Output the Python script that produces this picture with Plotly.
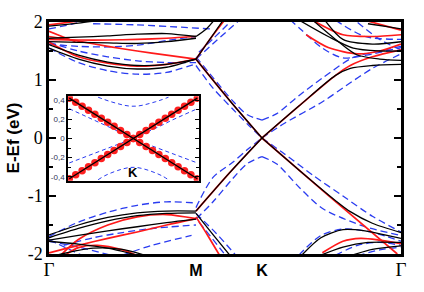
import plotly.graph_objects as go

# ---------------- path / tick data ----------------
K_TICKS = [0.0, 1.0, 1.449, 2.395]
K_LABELS = ["Γ", "M", "K", "Γ"]
Y_TICKS = [-2, -1, 0, 1, 2]
INSET_TICKS = [-0.4, -0.2, 0.0, 0.2, 0.4]
INSET_LABELS = ["-0,4", "-0,2", "0", "0,2", "0,4"]

KGM = [0.0, 0.2, 0.4, 0.6, 0.8, 1.0]
KMK = [1.0, 1.225, 1.449]
KKG = [1.449, 1.7, 1.95, 2.05, 2.2, 2.395]
KMK5 = [1.0, 1.116, 1.25, 1.35, 1.449]

# ---------------- black (solid) bands ----------------
bk_gm_u1 = [1.55, 1.36, 1.24, 1.19, 1.22, 1.36]
bk_gm_u2 = [1.61, 1.43, 1.31, 1.25, 1.27, 1.36]
bk_gm_u3 = [1.72, 1.74, 1.76, 1.79, 1.80, 1.75]
bk_gm_u4 = [1.66, 1.65, 1.64, 1.63, 1.66, 1.72]
bk_top_k, bk_top_e = [0.0, 0.2, 0.4], [1.93, 1.98, 2.05]
bk_m_up_k, bk_m_up_e = [1.0, 1.1, 1.19], [1.36, 1.72, 2.05]
bk_m_up2_k, bk_m_up2_e = [1.0, 1.07, 1.13], [1.75, 1.88, 2.05]
bk_dirac1_mk = [1.36, 0.66, 0.0]
bk_dirac2_mk = [-1.26, -0.61, 0.0]
bk_dirac1_kg = [0.0, -0.55, -1.08, -1.27, -1.47, -1.63]
bk_dirac2_kg = [0.0, 0.55, 1.08, 1.2, 1.25, 1.27]
bk_kg_u1_k, bk_kg_u1_e = [1.8, 1.95, 2.09, 2.25, 2.395], [2.02, 1.7, 1.44, 1.36, 1.34]
bk_kg_u2_k, bk_kg_u2_e = [1.71, 1.9, 2.07, 2.25, 2.395], [2.02, 1.75, 1.55, 1.5, 1.5]
bk_kg_u3_k, bk_kg_u3_e = [1.88, 2.0, 2.2, 2.395], [2.02, 1.7, 1.62, 1.66]
bk_kg_u4_k, bk_kg_u4_e = [2.17, 2.3, 2.395], [1.97, 1.92, 1.88]
bk_gm_l1 = [-1.67, -1.5, -1.37, -1.29, -1.26, -1.26]
bk_gm_l2 = [-1.72, -1.56, -1.43, -1.34, -1.30, -1.29]
bk_gm_l3 = [-1.76, -1.68, -1.60, -1.53, -1.46, -1.40]
bk_gm_l4_k, bk_gm_l4_e = [0.0, 0.2, 0.4, 0.6], [-1.78, -1.83, -1.9, -2.02]
bk_gm_l5_k, bk_gm_l5_e = [0.05, 0.3, 0.5, 0.65], [-2.02, -1.9, -1.92, -2.02]
bk_m_dn_k, bk_m_dn_e = [1.0, 1.12, 1.23], [-1.3, -1.68, -2.02]
bk_kg_l2_k, bk_kg_l2_e = [1.72, 1.85, 2.0, 2.15, 2.3, 2.395], [-2.02, -1.72, -1.58, -1.6, -1.68, -1.73]
bk_kg_l3_k, bk_kg_l3_e = [1.85, 2.0, 2.17, 2.395], [-2.02, -1.88, -1.8, -1.8]
bk_kg_l4_k, bk_kg_l4_e = [2.05, 2.2, 2.395], [-2.03, -1.92, -1.86]

# ---------------- red bands ----------------
rd_gm_u1 = [1.65, 1.40, 1.29, 1.24, 1.27, 1.36]
rd_gm_u2 = [1.75, 1.67, 1.58, 1.50, 1.43, 1.36]
rd_gm_u3 = [1.70, 1.69, 1.69, 1.70, 1.72, 1.75]
rd_top_k, rd_top_e = [0.0, 0.15, 0.3], [1.95, 2.0, 2.05]
rd_loop_k, rd_loop_e = [0.0, 0.08, 0.18], [1.84, 1.76, 1.66]
rd_m_up_k, rd_m_up_e = [1.0, 1.1, 1.2], [1.36, 1.72, 2.05]
rd_dirac1_kg_k, rd_dirac1_kg_e = [1.449, 1.9, 2.37], [0.0, -0.99, -2.0]
rd_dirac2_kg = [0.0, 0.55, 1.08, 1.25, 1.4, 1.52]
rd_kg_u1_k, rd_kg_u1_e = [1.75, 1.9, 2.1, 2.25, 2.395], [1.78, 1.56, 1.45, 1.5, 1.62]
rd_kg_u2_k, rd_kg_u2_e = [1.8, 2.0, 2.2, 2.395], [2.02, 1.78, 1.75, 1.78]
rd_kg_u3_k, rd_kg_u3_e = [2.15, 2.395], [2.03, 1.86]
rd_gm_l1_k, rd_gm_l1_e = [0.08, 0.2, 0.4, 0.6, 0.8, 1.0], [-2.02, -1.75, -1.5, -1.36, -1.32, -1.39]
rd_gm_l2 = [-1.98, -1.85, -1.73, -1.62, -1.5, -1.39]
rd_gm_l3_k, rd_gm_l3_e = [0.12, 0.2, 0.33, 0.5, 0.62], [-2.0, -1.89, -1.85, -1.93, -2.05]
rd_m_dn_k, rd_m_dn_e = [1.0, 1.08, 1.16], [-1.36, -1.68, -2.02]
rd_kg_l2_k, rd_kg_l2_e = [1.86, 2.0, 2.12, 2.25, 2.395], [-1.98, -1.78, -1.73, -1.76, -1.82]

# ---------------- blue (dashed) bands ----------------
bl_gm_u1 = [1.55, 1.30, 1.16, 1.10, 1.13, 1.28]
bl_gm_u2 = [1.65, 1.50, 1.40, 1.33, 1.30, 1.30]
bl_gm_u3 = [1.62, 1.58, 1.57, 1.60, 1.68, 1.75]
bl_top_k, bl_top_e = [0.3, 0.6, 0.9, 1.1], [1.97, 1.95, 1.91, 1.88]
bl_top2_k, bl_top2_e = [0.0, 0.15, 0.3], [1.88, 1.96, 2.05]
bl_m_up1_k, bl_m_up1_e = [1.0, 1.14, 1.29], [1.36, 1.68, 2.02]
bl_m_up2_k, bl_m_up2_e = [1.02, 1.12, 1.24], [1.48, 1.72, 2.02]
bl_hyp_up_l = [1.40, 1.04, 0.64, 0.40, 0.31]
bl_hyp_dn_l = [-1.40, -1.10, -0.70, -0.44, -0.32]
bl_cone1_l = [1.25, 0.86, 0.50, 0.24, 0.0]
bl_cone2_l = [-1.20, -0.68, -0.42, -0.20, 0.0]
bl_hyp_up_r_k, bl_hyp_up_r_e = [1.449, 1.55, 1.7, 1.864, 2.07, 2.25, 2.395], [0.31, 0.42, 0.73, 1.04, 1.39, 1.5, 1.58]
bl_hyp_dn_r_k, bl_hyp_dn_r_e = [1.449, 1.55, 1.71, 1.864, 2.14, 2.395], [-0.32, -0.45, -0.87, -1.22, -1.52, -1.68]
bl_cone1_r_k, bl_cone1_r_e = [1.449, 1.6, 1.8, 2.0, 2.2, 2.395], [0.0, -0.27, -0.65, -1.0, -1.35, -1.62]
bl_cone2_r_k, bl_cone2_r_e = [1.449, 1.6, 1.864, 2.02, 2.2, 2.395], [0.0, 0.25, 0.63, 0.9, 1.2, 1.45]
bl_kg_u1_k, bl_kg_u1_e = [1.64, 1.71, 1.86, 2.0, 2.2, 2.395], [2.04, 1.88, 1.55, 1.38, 1.45, 1.56]
bl_kg_u2_k, bl_kg_u2_e = [1.95, 2.15, 2.395], [2.03, 1.75, 1.7]
bl_kg_u3_k, bl_kg_u3_e = [2.1, 2.25, 2.395], [1.99, 1.7, 1.52]
bl_gm_l1 = [-1.70, -1.45, -1.28, -1.16, -1.10, -1.12]
bl_gm_l2_k, bl_gm_l2_e = [0.1, 0.3, 0.5, 0.7, 1.0], [-1.85, -1.72, -1.63, -1.56, -1.50]
bl_gm_l3_k, bl_gm_l3_e = [0.0, 0.2, 0.42], [-1.78, -1.88, -2.02]
bl_gm_l4_k, bl_gm_l4_e = [0.0, 0.12, 0.25], [-1.75, -1.9, -2.05]
bl_gm_l5_k, bl_gm_l5_e = [0.5, 0.7, 0.97], [-2.02, -1.85, -1.68]
bl_m_dn1_k, bl_m_dn1_e = [1.0, 1.14, 1.27], [-1.3, -1.65, -2.02]
bl_m_dn2_k, bl_m_dn2_e = [1.02, 1.1, 1.2], [-1.45, -1.7, -2.02]
bl_kg_l2_k, bl_kg_l2_e = [1.7, 1.85, 2.0, 2.15, 2.3, 2.395], [-2.02, -1.68, -1.57, -1.6, -1.7, -1.78]
bl_kg_l3_k, bl_kg_l3_e = [1.95, 2.1, 2.25, 2.395], [-2.02, -1.85, -1.8, -1.85]
bl_kg_l4_k, bl_kg_l4_e = [2.1, 2.25, 2.395], [-2.03, -1.93, -1.88]

# ---------------- inset data (around K) ----------------
ins_k = [-1.0, -0.9, -0.8, -0.7, -0.6, -0.5, -0.4, -0.3, -0.2, -0.1, 0.0,
         0.1, 0.2, 0.3, 0.4, 0.5, 0.6, 0.7, 0.8, 0.9, 1.0]
ins_black_a = [0.42, 0.378, 0.336, 0.294, 0.252, 0.21, 0.168, 0.126, 0.084, 0.042, 0.0,
               -0.042, -0.084, -0.126, -0.168, -0.21, -0.252, -0.294, -0.336, -0.378, -0.42]
ins_black_b = [-0.42, -0.378, -0.336, -0.294, -0.252, -0.21, -0.168, -0.126, -0.084, -0.042, 0.0,
               0.042, 0.084, 0.126, 0.168, 0.21, 0.252, 0.294, 0.336, 0.378, 0.42]
ins_blue_a = [0.31, 0.28, 0.25, 0.22, 0.19, 0.155, 0.125, 0.095, 0.06, 0.03, 0.0,
              -0.03, -0.055, -0.08, -0.105, -0.13, -0.155, -0.18, -0.205, -0.23, -0.255]
ins_blue_b = [-0.255, -0.23, -0.205, -0.18, -0.155, -0.13, -0.105, -0.08, -0.055, -0.03, 0.0,
              0.03, 0.06, 0.095, 0.125, 0.155, 0.19, 0.22, 0.25, 0.28, 0.31]
ins_hyp_k = [-0.55, -0.45, -0.35, -0.25, -0.15, -0.05, 0.05, 0.15, 0.25, 0.35, 0.45, 0.55]
ins_hyp_up = [0.43, 0.405, 0.383, 0.364, 0.347, 0.337, 0.337, 0.347, 0.364, 0.383, 0.405, 0.43]
ins_hyp_dn = [-0.43, -0.39, -0.36, -0.335, -0.315, -0.302, -0.302, -0.315, -0.335, -0.36, -0.39, -0.43]

BLUE = "#2a3cf0"
RED = "#ff1a1a"

fig = go.Figure()


def band(k, e, kind, xa="x", ya="y"):
    if kind == "b":
        line = dict(color="black", width=1.3)
    elif kind == "r":
        line = dict(color=RED, width=1.7)
    else:
        line = dict(color=BLUE, width=1.3, dash="7px,4px")
    line["shape"] = "spline"
    line["smoothing"] = 0.8
    fig.add_trace(go.Scatter(x=k, y=e, mode="lines", line=line, xaxis=xa, yaxis=ya,
                             hoverinfo="skip", showlegend=False))


blue_bands = [
    (KGM, bl_gm_u1), (KGM, bl_gm_u2), (KGM, bl_gm_u3), (bl_top_k, bl_top_e), (bl_top2_k, bl_top2_e),
    (bl_m_up1_k, bl_m_up1_e), (bl_m_up2_k, bl_m_up2_e),
    (KMK5, bl_hyp_up_l), (KMK5, bl_hyp_dn_l), (KMK5, bl_cone1_l), (KMK5, bl_cone2_l),
    (bl_hyp_up_r_k, bl_hyp_up_r_e), (bl_hyp_dn_r_k, bl_hyp_dn_r_e),
    (bl_cone1_r_k, bl_cone1_r_e), (bl_cone2_r_k, bl_cone2_r_e),
    (bl_kg_u1_k, bl_kg_u1_e), (bl_kg_u2_k, bl_kg_u2_e), (bl_kg_u3_k, bl_kg_u3_e),
    (KGM, bl_gm_l1), (bl_gm_l2_k, bl_gm_l2_e), (bl_gm_l3_k, bl_gm_l3_e), (bl_gm_l4_k, bl_gm_l4_e),
    (bl_gm_l5_k, bl_gm_l5_e), (bl_m_dn1_k, bl_m_dn1_e), (bl_m_dn2_k, bl_m_dn2_e),
    (bl_kg_l2_k, bl_kg_l2_e), (bl_kg_l3_k, bl_kg_l3_e), (bl_kg_l4_k, bl_kg_l4_e),
]
red_bands = [
    (KGM, rd_gm_u1), (KGM, rd_gm_u2), (KGM, rd_gm_u3), (rd_top_k, rd_top_e), (rd_loop_k, rd_loop_e),
    (rd_m_up_k, rd_m_up_e), (KMK, bk_dirac1_mk), (KMK, bk_dirac2_mk),
    (rd_dirac1_kg_k, rd_dirac1_kg_e), (KKG, rd_dirac2_kg),
    (rd_kg_u1_k, rd_kg_u1_e), (rd_kg_u2_k, rd_kg_u2_e), (rd_kg_u3_k, rd_kg_u3_e),
    (rd_gm_l1_k, rd_gm_l1_e), (KGM, rd_gm_l2), (rd_gm_l3_k, rd_gm_l3_e), (rd_m_dn_k, rd_m_dn_e),
    (rd_kg_l2_k, rd_kg_l2_e),
]
black_bands = [
    (KGM, bk_gm_u1), (KGM, bk_gm_u2), (KGM, bk_gm_u3), (KGM, bk_gm_u4), (bk_top_k, bk_top_e),
    (bk_m_up_k, bk_m_up_e), (bk_m_up2_k, bk_m_up2_e),
    (KMK, bk_dirac1_mk), (KMK, bk_dirac2_mk), (KKG, bk_dirac1_kg), (KKG, bk_dirac2_kg),
    (bk_kg_u1_k, bk_kg_u1_e), (bk_kg_u2_k, bk_kg_u2_e), (bk_kg_u3_k, bk_kg_u3_e), (bk_kg_u4_k, bk_kg_u4_e),
    (KGM, bk_gm_l1), (KGM, bk_gm_l2), (KGM, bk_gm_l3), (bk_gm_l4_k, bk_gm_l4_e), (bk_gm_l5_k, bk_gm_l5_e),
    (bk_m_dn_k, bk_m_dn_e), (bk_kg_l2_k, bk_kg_l2_e), (bk_kg_l3_k, bk_kg_l3_e), (bk_kg_l4_k, bk_kg_l4_e),
]
for k, e in blue_bands:
    band(k, e, "bl")
for k, e in red_bands:
    band(k, e, "r")
for k, e in black_bands:
    band(k, e, "b")

# ---------------- inset ----------------
fig.add_trace(go.Scatter(x=[-1.02, 1.02, 1.02, -1.02, -1.02], y=[-0.44, -0.44, 0.44, 0.44, -0.44],
                         fill="toself", fillcolor="white", mode="lines", line=dict(width=0),
                         xaxis="x2", yaxis="y2", hoverinfo="skip", showlegend=False))
for e in (ins_blue_a, ins_blue_b):
    fig.add_trace(go.Scatter(x=ins_k, y=e, mode="lines", xaxis="x2", yaxis="y2",
                             line=dict(color=BLUE, width=1, dash="4px,3px"), hoverinfo="skip", showlegend=False))
for e in (ins_hyp_up, ins_hyp_dn):
    fig.add_trace(go.Scatter(x=ins_hyp_k, y=e, mode="lines", xaxis="x2", yaxis="y2",
                             line=dict(color=BLUE, width=1, dash="4px,3px", shape="spline"),
                             hoverinfo="skip", showlegend=False))
for e in (ins_black_a, ins_black_b):
    fig.add_trace(go.Scatter(x=ins_k, y=e, mode="markers", xaxis="x2", yaxis="y2",
                             marker=dict(color="#ff2020", size=7.5, line=dict(width=0)),
                             hoverinfo="skip", showlegend=False))
for e in (ins_black_a, ins_black_b):
    fig.add_trace(go.Scatter(x=ins_k, y=e, mode="lines", xaxis="x2", yaxis="y2",
                             line=dict(color="black", width=1.3), hoverinfo="skip", showlegend=False))

tick_text = []
for lab in K_LABELS:
    if lab == "Γ":
        tick_text.append('<span style="font-family:Liberation Serif;font-size:19px">Γ</span>')
    else:
        tick_text.append('<span style="font-family:Liberation Sans;font-size:16px"><b>%s</b></span>' % lab)

fig.update_layout(
    width=424, height=292,
    margin=dict(l=48, r=23, t=13, b=32),
    paper_bgcolor="white", plot_bgcolor="white",
    showlegend=False,
    xaxis=dict(range=[0, 2.395], domain=[0, 1], tickvals=K_TICKS, ticktext=tick_text,
               ticks="", showgrid=False, zeroline=False, showline=True, linewidth=2.5,
               linecolor="black", mirror=True, tickfont=dict(color="black", size=16),
               ticklabelstandoff=0),
    yaxis=dict(range=[-2, 2], domain=[0, 1], tickvals=Y_TICKS, ticktext=[str(v) for v in Y_TICKS],
               ticks="inside", ticklen=7, tickwidth=1.5, tickcolor="black",
               minor=dict(dtick=0.5, ticks="inside", ticklen=4, tickwidth=1.5, tickcolor="black"),
               showgrid=False, zeroline=False, showline=True, linewidth=2.5, linecolor="black",
               mirror="allticks",
               tickfont=dict(family="Liberation Serif", size=18, color="black"),
               title=dict(text="<b>E-Ef (eV)</b>", standoff=4,
                          font=dict(family="Liberation Sans", size=17, color="black"))),
    xaxis2=dict(range=[-1.02, 1.02], domain=[0.054, 0.425], anchor="y2", showticklabels=False,
                ticks="", showgrid=False, zeroline=False, showline=True, linewidth=1.5,
                linecolor="black", mirror=True),
    yaxis2=dict(range=[-0.44, 0.44], domain=[0.316, 0.680], anchor="x2",
                tickvals=INSET_TICKS, ticktext=INSET_LABELS,
                ticks="inside", ticklen=4, tickwidth=1, tickcolor="black",
                minor=dict(dtick=0.1, ticks="inside", ticklen=3, tickwidth=1, tickcolor="black"),
                showgrid=False, zeroline=False, showline=True, linewidth=1.5, linecolor="black",
                mirror="allticks", tickfont=dict(family="Liberation Sans", size=8, color="#333355")),
    annotations=[dict(x=0, y=-0.44, xref="x2", yref="y2", text="<b>K</b>", showarrow=False,
                      yanchor="bottom", yshift=-1,
                      font=dict(family="Liberation Sans", size=13, color="black"))],
)

fig.write_html("out.html")
